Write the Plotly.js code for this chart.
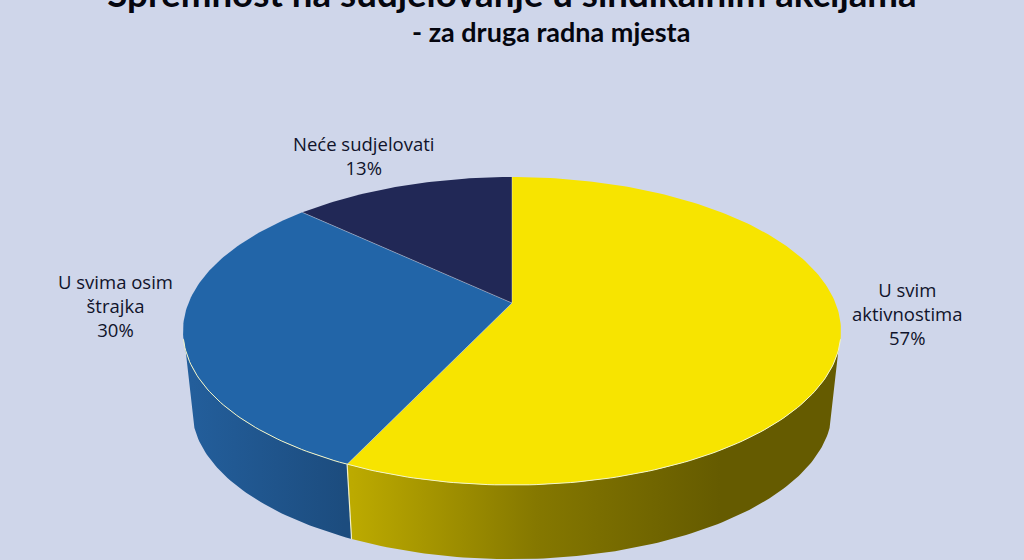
<!DOCTYPE html>
<html><head><meta charset="utf-8">
<script src="https://cdn.plot.ly/plotly-3.0.0.min.js"></script>
<style>html,body{margin:0;padding:0;background:#cfd6ea;overflow:hidden}#c{width:1024px;height:560px}</style>
</head><body><div id="c"></div>
<script>
// data (clockwise from 12 o'clock)
const categories = ["U svim aktivnostima", "U svima osim štrajka", "Neće sudjelovati"];
const values = [57, 30, 13];
const labelLines = ["U svim<br>aktivnostima", "U svima osim<br>štrajka", "Neće sudjelovati"];
const topColors = ["#f7e400", "#2265a8", "#212856"];
const sideStops = [
  [[0, "#bcaa00"], [0.5, "#857800"], [1, "#655b00"]],
  [[0, "#235e9b"], [1, "#1c4c7e"]],
  [[0, "#161c3c"], [1, "#161c3c"]]
];
// view geometry of the tilted pie
const cx = 512, cy = 303, depth = 79, k = 0.182, A = 148.9, B = 323.5, baseScale = 0.973;
const deg = Math.PI / 180;
function proj(a, lower) {           // a: degrees clockwise from the back of the disc
  const u = Math.sin(a * deg), v = -Math.cos(a * deg), w = 1 - k * v;
  const s = lower ? baseScale : 1;
  return [cx + s * B * u / w, cy + (lower ? depth : 0) + s * A * v / w];
}
function arc(a0, a1, lower) {
  const out = [], n = Math.max(2, Math.ceil(Math.abs(a1 - a0)));
  for (let i = 0; i <= n; i++) out.push(proj(a0 + (a1 - a0) * i / n, lower));
  return out;
}
const total = values.reduce((a, b) => a + b, 0);
const spans = []; let acc = 0;
values.forEach(v => { spans.push([acc / total * 360, (acc + v) / total * 360]); acc += v; });
const xs = p => p.map(q => q[0]), ys = p => p.map(q => q[1]);
const traces = [];
// side walls, visible part only
const visA = 107.5, visB = 252.5;
[0, 1].forEach(i => {
  const a0 = Math.max(spans[i][0], visA), a1 = Math.min(spans[i][1], visB);
  const poly = arc(a0, a1, false).concat(arc(a1, a0, true));
  traces.push({type: "scatter", mode: "lines", x: xs(poly), y: ys(poly), fill: "toself",
    line: {width: 0}, fillcolor: sideStops[i][0][1], hoverinfo: "skip", showlegend: false,
    fillgradient: {type: "horizontal", colorscale: sideStops[i], start: i === 0 ? 352 : 192, stop: i === 0 ? 720 : 345}});
});
// top slices
values.forEach((v, i) => {
  const poly = [[cx, cy]].concat(arc(spans[i][0], spans[i][1], false)).concat([[cx, cy]]);
  traces.push({type: "scatter", mode: "lines", name: categories[i], x: xs(poly), y: ys(poly),
    fill: "toself", fillcolor: topColors[i], line: {width: 0}, hoverinfo: "name", showlegend: false});
});
// thin light edges
const rim = arc(visA - 4, visB + 4, false);
traces.push({type: "scatter", mode: "lines", x: xs(rim), y: ys(rim), line: {color: "#f4f6c8", width: 1},
  hoverinfo: "skip", showlegend: false});
spans.forEach(s => {
  const p = proj(s[0], false);
  traces.push({type: "scatter", mode: "lines", x: [cx, p[0]], y: [cy, p[1]], line: {color: "rgba(255,255,255,0.45)", width: 0.8},
    hoverinfo: "skip", showlegend: false});
});
const e0 = proj(spans[1][0], false), e1 = proj(spans[1][0], true);
traces.push({type: "scatter", mode: "lines", x: [e0[0], e1[0]], y: [e0[1], e1[1]], line: {color: "#f2f0c8", width: 1.2},
  hoverinfo: "skip", showlegend: false});

const labelFont = {family: "Open Sans, sans-serif", size: 18.5, color: "#10132a"};
function note(text, x, y, font) {
  return {text, x, y, xref: "x", yref: "y", showarrow: false, xanchor: "center", yanchor: "middle", font: font || labelFont};
}
const annotations = [
  note(labelLines[0] + "<br>" + values[0] + "%", 907, 313),
  note(labelLines[1] + "<br>" + values[1] + "%", 115, 305),
  note(labelLines[2] + "<br>" + values[2] + "%", 364, 155),
  note("- za druga radna mjesta", 551, 31, {family: "Lato, sans-serif", size: 27, color: "#05060f", weight: 700})
];
Plotly.newPlot("c", traces, {
  width: 1024, height: 560, margin: {l: 0, r: 0, t: 0, b: 0},
  paper_bgcolor: "#cfd6ea", plot_bgcolor: "#cfd6ea", showlegend: false,
  title: {text: "<b>Spremnost na sudjelovanje u sindikalnim akcijama</b>", x: 0.5, xanchor: "center", xref: "container",
    y: 1, yref: "container", yanchor: "bottom", pad: {b: -7}, font: {family: "Lato, sans-serif", size: 36.7, color: "#05060f"}},
  xaxis: {range: [0, 1024], visible: false, fixedrange: true},
  yaxis: {range: [560, 0], visible: false, fixedrange: true},
  annotations
}, {displayModeBar: false, staticPlot: true});
</script></body></html>
